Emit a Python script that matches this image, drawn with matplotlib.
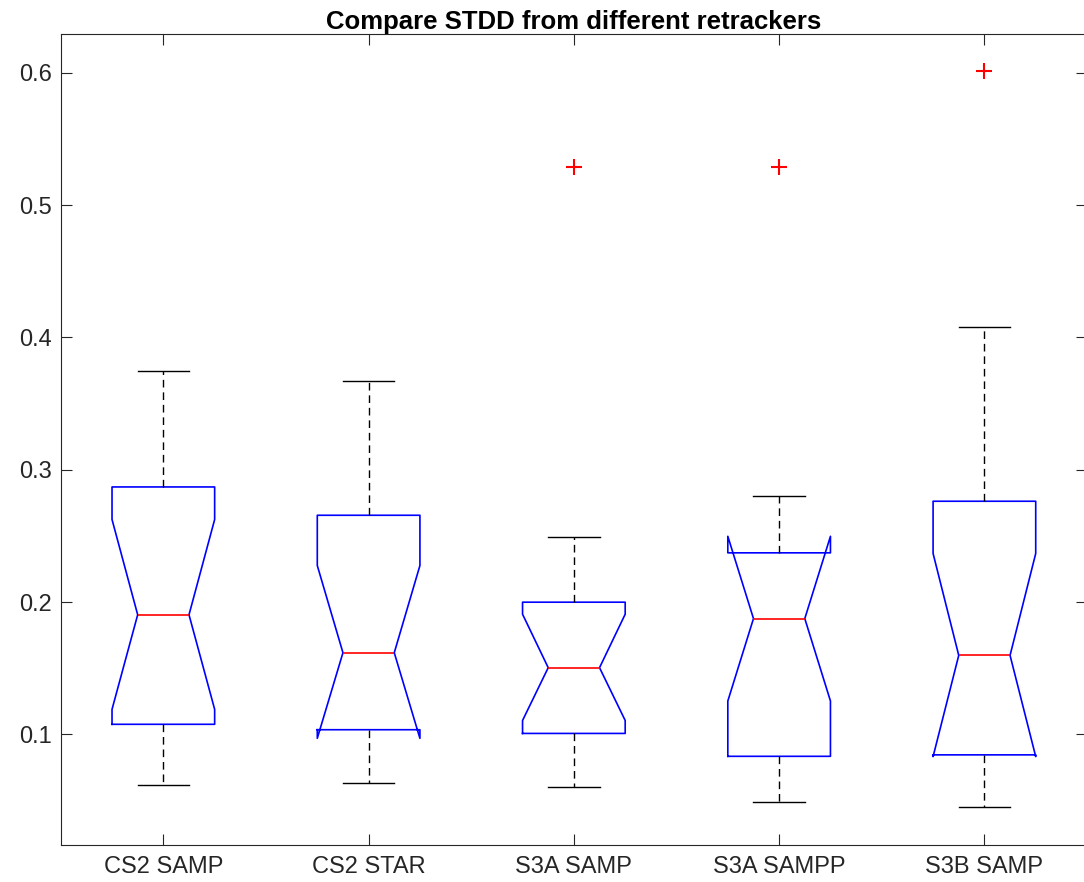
import matplotlib
matplotlib.use('Agg')  # Non-interactive backend
import matplotlib.pyplot as plt

plt.rcParams['font.family'] = ['Liberation Sans', 'DejaVu Sans']

# Summary statistics per retracker (STDD)
labels = ['CS2 SAMP', 'CS2 STAR', 'S3A SAMP', 'S3A SAMPP', 'S3B SAMP']
whisker_low = [0.0615, 0.0630, 0.0604, 0.0489, 0.0451]
q1 = [0.1076, 0.1035, 0.1007, 0.0834, 0.0845]
medians = [0.1904, 0.1617, 0.1504, 0.1875, 0.1597]
q3 = [0.2870, 0.2656, 0.1999, 0.2372, 0.2762]
whisker_high = [0.3750, 0.3669, 0.2494, 0.2801, 0.4082]
notch_low = [0.1189, 0.0970, 0.1105, 0.1252, 0.0832]
notch_high = [0.2624, 0.2276, 0.1908, 0.2497, 0.2367]
outliers = [[], [], [0.5290], [0.5290], [0.6016]]

stats = []
for i, name in enumerate(labels):
    stats.append({
        'label': name,
        'whislo': whisker_low[i],
        'q1': q1[i],
        'med': medians[i],
        'q3': q3[i],
        'whishi': whisker_high[i],
        'cilo': notch_low[i],
        'cihi': notch_high[i],
        'fliers': outliers[i],
    })

fig = plt.figure(figsize=(10.84, 8.82), dpi=100)
# Axes run slightly past the right edge of the canvas
ax = fig.add_axes([0.056, 0.042, 0.9468, 0.9192])

dark = '#262626'
ax.bxp(stats, positions=range(1, 6), widths=0.5, capwidths=0.25,
       shownotches=True,
       boxprops=dict(color='#0000ff', linewidth=1.2),
       medianprops=dict(color='#ff0000', linewidth=1.2),
       whiskerprops=dict(color='#000000', linewidth=1.0, linestyle=(0, (5.5, 3.5))),
       capprops=dict(color='#000000', linewidth=1.0),
       flierprops=dict(marker='+', markeredgecolor='#ff0000', markersize=11,
                       markeredgewidth=1.5, linestyle='none'))

ax.set_xlim(0.5, 5.5)
ax.set_ylim(0.0164, 0.6292)
ax.set_yticks([0.1, 0.2, 0.3, 0.4, 0.5, 0.6])
ax.set_xticks(range(1, 6))
ax.set_xticklabels(labels)

ax.tick_params(which='both', direction='in', top=True, right=True,
               length=8, width=0.8, color=dark, labelcolor=dark, labelsize=17)
ax.tick_params(axis='y', pad=6.5)
ax.tick_params(axis='x', pad=8)
for spine in ax.spines.values():
    spine.set_color(dark)
    spine.set_linewidth(0.8)
ax.spines['right'].set_visible(False)

ax.set_title('Compare STDD from different retrackers', fontsize=18.5,
             fontweight='bold', pad=4)

plt.savefig('out.png', dpi=100)
plt.close()
